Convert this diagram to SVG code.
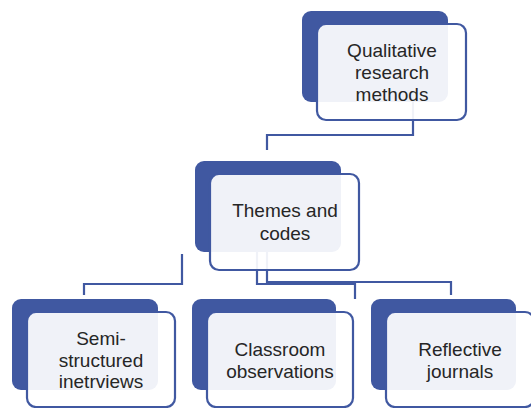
<svg xmlns="http://www.w3.org/2000/svg" width="531" height="408" viewBox="0 0 531 408">
<style>
.bg{fill:#4058a1;}
.fr{fill:#ffffff;fill-opacity:0.92;stroke:#4058a1;stroke-width:2.2;}
.cn{fill:none;stroke:#4058a1;stroke-width:2.2;}
.t{font-family:"Liberation Sans",Arial,sans-serif;font-size:19px;fill:#262626;text-anchor:middle;}
</style>
<rect width="531" height="408" fill="#ffffff"/>
<g id="connectors">
<path class="cn" d="M413 102 V135 H267 V150"/>
<path class="cn" d="M182 254 V284 H84 V295"/>
<path class="cn" d="M257 252 V284 H355 V299"/>
<path class="cn" d="M267 252 V282 H451 V295"/>
</g>
<g id="qualitative">
<rect class="bg" x="302" y="11" width="146" height="91" rx="9"/>
<rect class="fr" x="317" y="24" width="149" height="96" rx="9"/>
<text class="t" x="392" y="57">Qualitative</text>
<text class="t" x="392" y="79">research</text>
<text class="t" x="392" y="101">methods</text>
</g>
<g id="themes">
<rect class="bg" x="195" y="161" width="146" height="91" rx="9"/>
<rect class="fr" x="210" y="174" width="149" height="96" rx="9"/>
<text class="t" x="285" y="217">Themes and</text>
<text class="t" x="285" y="240">codes</text>
</g>
<g id="semi">
<rect class="bg" x="12" y="299" width="146" height="91" rx="9"/>
<rect class="fr" x="27" y="312" width="148" height="95" rx="9"/>
<text class="t" x="101" y="345">Semi-</text>
<text class="t" x="101" y="367">structured</text>
<text class="t" x="101" y="388">inetrviews</text>
</g>
<g id="classroom">
<rect class="bg" x="192" y="299" width="144" height="91" rx="9"/>
<rect class="fr" x="207" y="312" width="146" height="95" rx="9"/>
<text class="t" x="280" y="356">Classroom</text>
<text class="t" x="280" y="378">observations</text>
</g>
<g id="reflective">
<rect class="bg" x="371" y="299" width="145" height="91" rx="9"/>
<rect class="fr" x="386" y="312" width="148" height="95" rx="9"/>
<text class="t" x="460" y="356">Reflective</text>
<text class="t" x="460" y="378">journals</text>
</g>
</svg>
